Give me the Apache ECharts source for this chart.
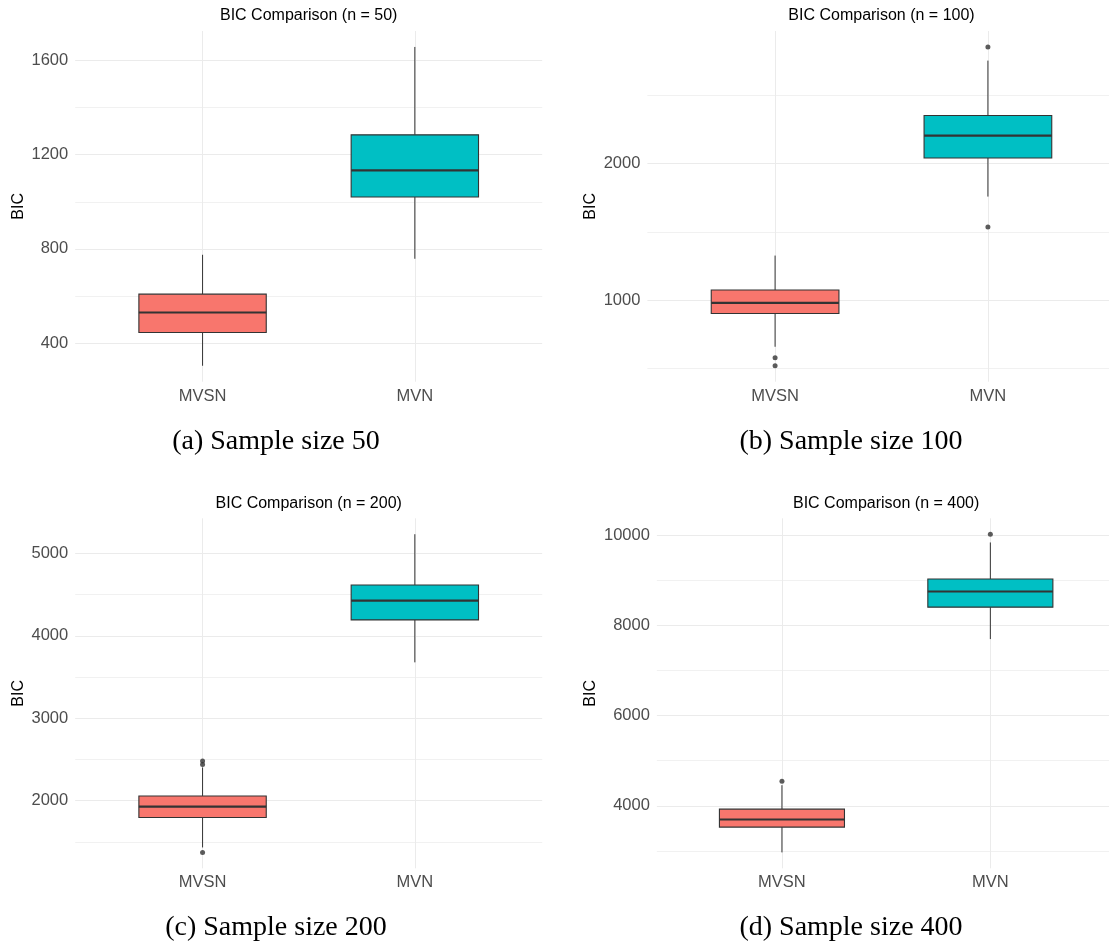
<!DOCTYPE html>
<html><head><meta charset="utf-8">
<script src="https://cdn.jsdelivr.net/npm/echarts@6/dist/echarts.min.js"></script>
<style>html,body{margin:0;padding:0;background:#fff}#chart{width:1109px;height:947px}</style>
</head><body><div id="chart"></div>
<script>
// ---------- data ----------
const categories = ['MVSN', 'MVN'];
const panelTitles = ['BIC Comparison (n = 50)', 'BIC Comparison (n = 100)', 'BIC Comparison (n = 200)', 'BIC Comparison (n = 400)'];
const captions = ['(a) Sample size 50', '(b) Sample size 100', '(c) Sample size 200', '(d) Sample size 400'];
const yAxisName = 'BIC';

// [lower whisker, Q1, median, Q3, upper whisker]
const n50_MVSN = [304, 445, 530, 608, 775];
const n50_MVN = [758, 1020, 1133, 1284, 1657];
const n50_MVSN_outliers = [];
const n50_MVN_outliers = [];
const n50_majorTicks = [400, 800, 1200, 1600];
const n50_minorTicks = [600, 1000, 1400];

const n100_MVSN = [659, 903, 980, 1075, 1327];
const n100_MVN = [1759, 2042, 2205, 2353, 2755];
const n100_MVSN_outliers = [578, 520];
const n100_MVN_outliers = [1537, 2855];
const n100_majorTicks = [1000, 2000];
const n100_minorTicks = [500, 1500, 2500];

const n200_MVSN = [1432, 1795, 1928, 2057, 2403];
const n200_MVN = [3678, 4193, 4427, 4617, 5233];
const n200_MVSN_outliers = [1372, 2440, 2481];
const n200_MVN_outliers = [];
const n200_majorTicks = [2000, 3000, 4000, 5000];
const n200_minorTicks = [1500, 2500, 3500, 4500];

const n400_MVSN = [2968, 3529, 3697, 3927, 4458];
const n400_MVN = [7697, 8405, 8752, 9030, 9839];
const n400_MVSN_outliers = [4546];
const n400_MVN_outliers = [10022];
const n400_majorTicks = [4000, 6000, 8000, 10000];
const n400_minorTicks = [3000, 5000, 7000, 9000];

// ---------- assembly ----------
const panels = [
  { boxes: [n50_MVSN, n50_MVN], outliers: [n50_MVSN_outliers, n50_MVN_outliers], major: n50_majorTicks, minor: n50_minorTicks },
  { boxes: [n100_MVSN, n100_MVN], outliers: [n100_MVSN_outliers, n100_MVN_outliers], major: n100_majorTicks, minor: n100_minorTicks },
  { boxes: [n200_MVSN, n200_MVN], outliers: [n200_MVSN_outliers, n200_MVN_outliers], major: n200_majorTicks, minor: n200_minorTicks },
  { boxes: [n400_MVSN, n400_MVN], outliers: [n400_MVSN_outliers, n400_MVN_outliers], major: n400_majorTicks, minor: n400_minorTicks }
];
const layout = [
  { left: 75.2, top: 31, width: 467, height: 350.7, nameX: 18.4, capX: 276, capY: 442, titleY: 16 },
  { left: 647.4, top: 31, width: 468.2, height: 350.7, nameX: 590.3, capX: 851, capY: 442, titleY: 16 },
  { left: 75.2, top: 518.3, width: 467, height: 350, nameX: 18.4, capX: 276, capY: 928, titleY: 503.3 },
  { left: 656.9, top: 518.3, width: 458.5, height: 350, nameX: 590.3, capX: 851, capY: 928, titleY: 503.3 }
];
const boxColors = ['#F8766D', '#00BFC4'];
const SANS = '"Liberation Sans", Arial, sans-serif';
const SERIF = '"Liberation Serif", "Times New Roman", serif';
const GRID = '#EBEBEB';
const INK = '#333333';

const grids = [], xAxes = [], yAxes = [], series = [], graphics = [];
const minorYAxes = [];

panels.forEach((p, i) => {
  const L = layout[i];
  const all = [].concat(...p.boxes, ...p.outliers);
  const lo = Math.min(...all), hi = Math.max(...all);
  const ymin = lo - 0.05 * (hi - lo), ymax = hi + 0.05 * (hi - lo);

  grids.push({ left: L.left, top: L.top, width: L.width, height: L.height, outerBoundsMode: 'none', containLabel: false });

  xAxes.push({
    type: 'value', gridIndex: i, min: 0.4, max: 2.6,
    axisLine: { show: false },
    axisTick: { show: false, customValues: [1, 2] },
    axisLabel: { customValues: [1, 2], formatter: v => categories[Math.round(v) - 1] || '',
      color: '#4D4D4D', fontSize: 16.5, fontFamily: SANS, margin: 6 },
    splitLine: { show: true, lineStyle: { color: GRID, width: 1 } }
  });

  yAxes.push({
    type: 'value', gridIndex: i, min: ymin, max: ymax,
    axisLine: { show: false },
    axisTick: { show: false, customValues: p.major },
    axisLabel: { customValues: p.major, formatter: v => String(Math.round(v)),
      color: '#4D4D4D', fontSize: 16.5, fontFamily: SANS, margin: 7 },
    splitLine: { show: true, lineStyle: { color: GRID, width: 1 } }
  });
  minorYAxes.push({
    type: 'value', gridIndex: i, min: ymin, max: ymax, position: 'left',
    axisLine: { show: false },
    axisTick: { show: false, customValues: p.minor },
    axisLabel: { show: false, customValues: p.minor },
    splitLine: { show: true, lineStyle: { color: GRID, width: 0.7 } }
  });

  series.push({
    type: 'custom', xAxisIndex: i, yAxisIndex: i,
    encode: { x: 0, y: [1, 2, 3, 4, 5] },
    data: p.boxes.map((b, k) => [k + 1].concat(b)),
    z: 3,
    renderItem: (params, api) => {
      const x = api.value(0);
      const pLo = api.coord([x, api.value(1)]);
      const pQ1 = api.coord([x, api.value(2)]);
      const pMed = api.coord([x, api.value(3)]);
      const pQ3 = api.coord([x, api.value(4)]);
      const pHi = api.coord([x, api.value(5)]);
      const w = api.size([0.6, 0])[0];
      const fill = boxColors[Math.round(x) - 1];
      return {
        type: 'group', children: [
          { type: 'line', shape: { x1: pLo[0], y1: pLo[1], x2: pQ1[0], y2: pQ1[1] }, style: { stroke: INK, lineWidth: 1 } },
          { type: 'line', shape: { x1: pQ3[0], y1: pQ3[1], x2: pHi[0], y2: pHi[1] }, style: { stroke: INK, lineWidth: 1 } },
          { type: 'rect', shape: { x: pQ3[0] - w / 2, y: pQ3[1], width: w, height: pQ1[1] - pQ3[1] }, style: { fill: fill, stroke: INK, lineWidth: 1.1 } },
          { type: 'line', shape: { x1: pMed[0] - w / 2, y1: pMed[1], x2: pMed[0] + w / 2, y2: pMed[1] }, style: { stroke: INK, lineWidth: 2.2 } }
        ]
      };
    }
  });

  const pts = [];
  p.outliers.forEach((arr, k) => arr.forEach(v => pts.push([k + 1, v])));
  series.push({
    type: 'scatter', xAxisIndex: i, yAxisIndex: i, data: pts,
    symbol: 'circle', symbolSize: 5, itemStyle: { color: INK }, z: 4, silent: true
  });

  graphics.push({ type: 'text', x: L.left + L.width / 2, y: L.titleY,
    style: { text: panelTitles[i], fontSize: 16, fontFamily: SANS, fill: '#000', align: 'center', verticalAlign: 'middle' } });
  graphics.push({ type: 'text', x: L.nameX, y: L.top + L.height / 2, rotation: Math.PI / 2,
    style: { text: yAxisName, fontSize: 16, fontFamily: SANS, fill: '#000', align: 'center', verticalAlign: 'middle' } });
  graphics.push({ type: 'text', x: L.capX, y: L.capY,
    style: { text: captions[i], fontSize: 28, fontFamily: SERIF, fill: '#000', align: 'center', verticalAlign: 'middle' } });
});

minorYAxes.forEach(a => yAxes.push(a));

const chart = echarts.init(document.getElementById('chart'), null, { renderer: 'canvas' });
chart.setOption({
  backgroundColor: '#ffffff',
  animation: false,
  grid: grids,
  xAxis: xAxes,
  yAxis: yAxes,
  series: series,
  graphic: { elements: graphics }
});
</script>
</body></html>
